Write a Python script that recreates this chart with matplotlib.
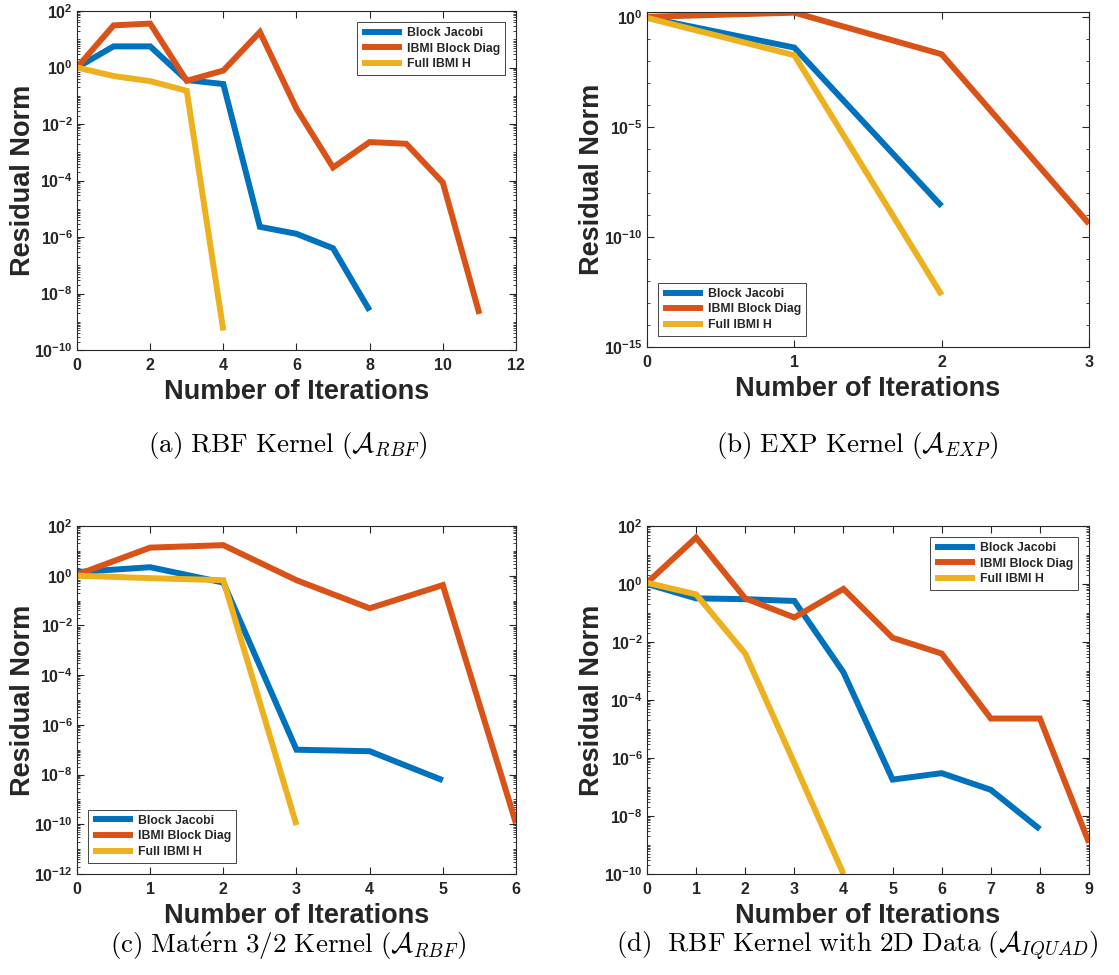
import numpy as np
import matplotlib
matplotlib.use("Agg")
import matplotlib.pyplot as plt
from matplotlib.ticker import LogLocator, FixedLocator, FuncFormatter, NullFormatter

plt.rcParams['font.family'] = ['Liberation Sans', 'DejaVu Sans']
plt.rcParams['font.weight'] = 'bold'
plt.rcParams['mathtext.fontset'] = 'custom'
plt.rcParams['mathtext.rm'] = 'Liberation Sans:bold'
plt.rcParams['mathtext.bf'] = 'Liberation Sans:bold'
plt.rcParams['mathtext.it'] = 'Liberation Sans:bold'

# series names and MATLAB default colours
names = ["Block Jacobi", "IBMI Block Diag", "Full IBMI H"]
colors = ["#0072BD", "#D95319", "#EDB120"]

# (a) RBF kernel
a_jacobi = [1.0, 5.6, 5.6, 0.36, 0.26, 2.3e-6, 1.3e-6, 4.0e-7, 2.5e-9]
a_diag = [1.0, 31, 36, 0.34, 0.78, 18, 0.035, 2.9e-4, 2.3e-3, 2.0e-3, 8.5e-5, 1.9e-9]
a_full = [1.0, 0.5, 0.33, 0.15, 4.9e-10]

# (b) EXP kernel
b_jacobi = [0.93, 0.04, 2.5e-9]
b_diag = [1.0, 1.55, 0.02, 4.0e-10]
b_full = [0.9, 0.018, 2.3e-13]

# (c) Matern 3/2 kernel
c_jacobi = [1.4, 2.2, 0.53, 1.0e-7, 8.7e-8, 5.9e-9]
c_diag = [1.1, 13.5, 17, 0.66, 0.049, 0.42, 1.1e-10]
c_full = [1.0, 0.8, 0.66, 9.3e-11]

# (d) RBF kernel, 2D data
d_jacobi = [1.0, 0.32, 0.30, 0.26, 9.0e-4, 1.8e-7, 3.0e-7, 8.0e-8, 3.5e-9]
d_diag = [1.1, 40, 0.32, 0.07, 0.68, 0.014, 0.004, 2.3e-5, 2.3e-5, 1.2e-9]
d_full = [1.1, 0.44, 0.004, 6.6e-7, 1.0e-10]

captions = [
    r"$\mathrm{(a)\ RBF\ Kernel\ (}\mathcal{A}_{RBF}\mathrm{)}$",
    r"$\mathrm{(b)\ EXP\ Kernel\ (}\mathcal{A}_{EXP}\mathrm{)}$",
    r"$\mathrm{(c)\ Mat\acute{e}rn\ 3/2\ Kernel\ (}\mathcal{A}_{RBF}\mathrm{)}$",
    r"$\mathrm{(d)\ \ RBF\ Kernel\ with\ 2D\ Data\ (}\mathcal{A}_{IQUAD}\mathrm{)}$",
]

panels = [
    dict(series=[a_jacobi, a_diag, a_full], xmax=12, xstep=2, ylim=(1e-10, 1e2), ystep=2,
         legend="upper right", rect=[0.0688, 0.641, 0.3923, 0.3477], cap=(0.257, 0.5435)),
    dict(series=[b_jacobi, b_diag, b_full], xmax=3, xstep=1, ylim=(1e-15, 10 ** 0.22), ystep=5,
         legend="lower left", rect=[0.5782, 0.6441, 0.395, 0.3436], cap=(0.766, 0.5435)),
    dict(series=[c_jacobi, c_diag, c_full], xmax=6, xstep=1, ylim=(1e-12, 1e2), ystep=2,
         legend="lower left", rect=[0.0688, 0.1036, 0.3923, 0.3569], cap=(0.257, 0.029)),
    dict(series=[d_jacobi, d_diag, d_full], xmax=9, xstep=1, ylim=(1e-10, 1e2), ystep=2,
         legend="upper right", rect=[0.5782, 0.1036, 0.395, 0.3569], cap=(0.766, 0.029)),
]

edge = "#262626"


def exp_fmt(v, pos):
    e = int(round(np.log10(v)))
    return r"$\mathbf{10^{%d}}$" % e


fig = plt.figure(figsize=(11.19, 9.75), dpi=100)

for p, cap in zip(panels, captions):
    ax = fig.add_axes(p["rect"])
    for vals, name, col in zip(p["series"], names, colors):
        ax.semilogy(np.arange(len(vals)), vals, color=col, lw=4.3, label=name,
                    solid_joinstyle="miter", solid_capstyle="butt")
    ax.set_xlim(0, p["xmax"])
    ax.set_ylim(*p["ylim"])
    ax.set_xticks(np.arange(0, p["xmax"] + 1, p["xstep"]))

    lo = int(np.floor(np.log10(p["ylim"][0])))
    hi = int(np.floor(np.log10(p["ylim"][1])))
    majors = [10.0 ** e for e in range(lo, hi + 1) if (e - lo) % p["ystep"] == 0]
    ax.yaxis.set_major_locator(FixedLocator(majors))
    ax.yaxis.set_major_formatter(FuncFormatter(exp_fmt))
    if p["ystep"] == 5:
        ax.yaxis.set_minor_locator(FixedLocator([10.0 ** e for e in range(lo, hi + 1)]))
    else:
        ax.yaxis.set_minor_locator(LogLocator(base=10, subs=np.arange(1, 10), numticks=100))
    ax.yaxis.set_minor_formatter(NullFormatter())

    ax.tick_params(which="both", direction="in", top=True, right=True, color=edge,
                   labelsize=11.5, labelcolor=edge)
    ax.tick_params(axis="y", pad=3)
    ax.tick_params(axis="x", pad=6)
    ax.tick_params(which="major", length=5, width=0.8)
    ax.tick_params(which="minor", length=2.5, width=0.6)
    ax.tick_params(axis="x", which="minor", bottom=False, top=False)
    for lbl in ax.get_xticklabels():
        lbl.set_fontweight("bold")
    for s in ax.spines.values():
        s.set_color(edge)
        s.set_linewidth(0.8)

    ax.set_xlabel("Number of Iterations", fontsize=19.5, fontweight="bold", color=edge, labelpad=4)
    ax.set_ylabel("Residual Norm", fontsize=19.5, fontweight="bold", color=edge)
    ax.yaxis.set_label_coords(-0.094, 0.5)

    leg = ax.legend(loc=p["legend"], fontsize=8.8, handlelength=3.3, fancybox=False,
                    framealpha=1, edgecolor="#262626", borderpad=0.4, labelspacing=0.3,
                    handletextpad=0.4, borderaxespad=0.9)
    leg.get_frame().set_linewidth(0.6)
    for t in leg.get_texts():
        t.set_fontweight("bold")
        t.set_color(edge)

    fig.text(p["cap"][0], p["cap"][1], cap, ha="center", va="center", fontsize=19.5,
             color="black", math_fontfamily="cm")

fig.savefig("out.png", dpi=100)
